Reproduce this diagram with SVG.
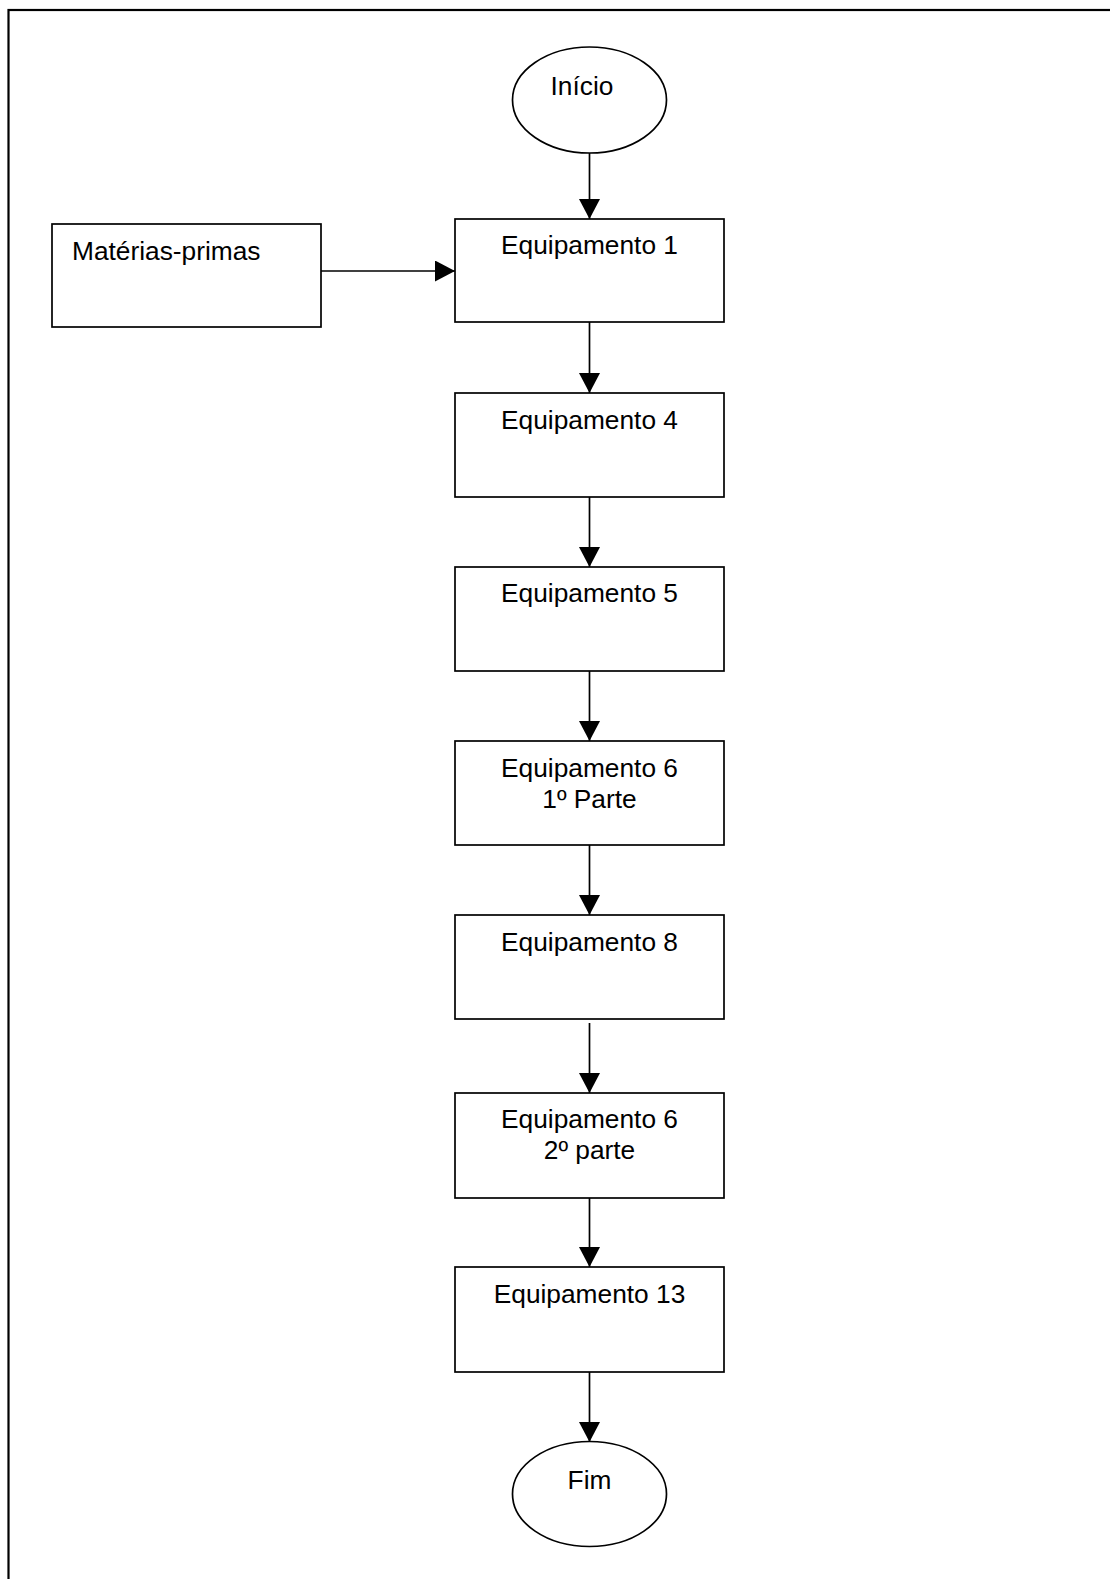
<svg xmlns="http://www.w3.org/2000/svg" width="1110" height="1579" viewBox="0 0 1110 1579">
  <style>
    .shape { fill: #fff; stroke: #000; stroke-width: 1.7; }
    .frame { fill: none; stroke: #000; stroke-width: 2.2; }
    .lbl { font-family: "Liberation Sans", Arial, sans-serif; font-size: 26.3px; fill: #000; }
    .mid { text-anchor: middle; }
    .edge { stroke: #000; stroke-width: 1.7; fill: none; marker-end: url(#head); }
  </style>
  <defs>
    <marker id="head" markerUnits="userSpaceOnUse" markerWidth="22" markerHeight="22" refX="20" refY="10.5" orient="auto">
      <path d="M0,0 L20,10.5 L0,21 Z" fill="#000"/>
    </marker>
  </defs>

  <rect width="1110" height="1579" fill="#fff"/>
  <!-- page frame -->
  <rect class="frame" x="8.5" y="10" width="1120" height="1600"/>

  <g id="connectors">
    <line class="edge" x1="589.5" y1="153" x2="589.5" y2="219"/>
    <line class="edge" x1="321" y1="271" x2="455" y2="271"/>
    <line class="edge" x1="589.5" y1="322" x2="589.5" y2="393"/>
    <line class="edge" x1="589.5" y1="497" x2="589.5" y2="567"/>
    <line class="edge" x1="589.5" y1="671" x2="589.5" y2="741"/>
    <line class="edge" x1="589.5" y1="845" x2="589.5" y2="915"/>
    <line class="edge" x1="589.5" y1="1023" x2="589.5" y2="1093"/>
    <line class="edge" x1="589.5" y1="1198" x2="589.5" y2="1267"/>
    <line class="edge" x1="589.5" y1="1372" x2="589.5" y2="1442"/>
  </g>

  <g id="inicio">
    <ellipse class="shape" cx="589.5" cy="100" rx="77" ry="53"/>
    <text class="lbl mid" x="582" y="95">Início</text>
  </g>

  <g id="materias-primas">
    <rect class="shape" x="52" y="224" width="269" height="103"/>
    <text class="lbl" x="72" y="260">Matérias-primas</text>
  </g>

  <g id="equipamento-1">
    <rect class="shape" x="455" y="219" width="269" height="103"/>
    <text class="lbl mid" x="589.5" y="254">Equipamento 1</text>
  </g>

  <g id="equipamento-4">
    <rect class="shape" x="455" y="393" width="269" height="104"/>
    <text class="lbl mid" x="589.5" y="428.5">Equipamento 4</text>
  </g>

  <g id="equipamento-5">
    <rect class="shape" x="455" y="567" width="269" height="104"/>
    <text class="lbl mid" x="589.5" y="602">Equipamento 5</text>
  </g>

  <g id="equipamento-6a">
    <rect class="shape" x="455" y="741" width="269" height="104"/>
    <text class="lbl mid" x="589.5" y="777">Equipamento 6</text>
    <text class="lbl mid" x="589.5" y="807.5">1º Parte</text>
  </g>

  <g id="equipamento-8">
    <rect class="shape" x="455" y="915" width="269" height="104"/>
    <text class="lbl mid" x="589.5" y="951">Equipamento 8</text>
  </g>

  <g id="equipamento-6b">
    <rect class="shape" x="455" y="1093" width="269" height="105"/>
    <text class="lbl mid" x="589.5" y="1128">Equipamento 6</text>
    <text class="lbl mid" x="589.5" y="1158.5">2º parte</text>
  </g>

  <g id="equipamento-13">
    <rect class="shape" x="455" y="1267" width="269" height="105"/>
    <text class="lbl mid" x="589.5" y="1302.5">Equipamento 13</text>
  </g>

  <g id="fim">
    <ellipse class="shape" cx="589.5" cy="1494" rx="77" ry="52.5"/>
    <text class="lbl mid" x="589.5" y="1489">Fim</text>
  </g>
</svg>
